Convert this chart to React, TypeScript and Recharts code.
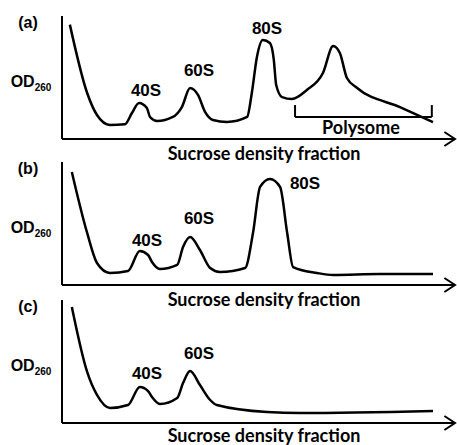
import { LineChart, Line, XAxis, YAxis, ReferenceLine } from "recharts";

// fraction position (0-100 along the gradient) vs OD260 (relative)
const curveA = [
  { f: 2.0, od: 0.93 }, { f: 6.4, od: 0.374 }, { f: 8.9, od: 0.195 }, { f: 12.2, od: 0.114 },
  { f: 16.0, od: 0.12 }, { f: 17.8, od: 0.211 }, { f: 19.6, od: 0.293 }, { f: 21.6, od: 0.252 },
  { f: 22.4, od: 0.179 }, { f: 24.2, od: 0.146 }, { f: 28.2, od: 0.179 }, { f: 30.5, od: 0.26 },
  { f: 32.6, od: 0.415 }, { f: 34.6, od: 0.358 }, { f: 36.4, od: 0.22 }, { f: 38.4, od: 0.154 },
  { f: 42.0, od: 0.138 }, { f: 47.1, od: 0.179 }, { f: 48.3, od: 0.374 }, { f: 49.6, od: 0.667 },
  { f: 51.1, od: 0.805 }, { f: 52.9, od: 0.78 }, { f: 53.9, od: 0.642 }, { f: 54.5, od: 0.439 },
  { f: 56.0, od: 0.341 }, { f: 58.5, od: 0.325 }, { f: 62.3, od: 0.398 }, { f: 66.4, od: 0.537 },
  { f: 69.0, od: 0.756 }, { f: 70.7, od: 0.699 }, { f: 72.5, od: 0.496 }, { f: 75.1, od: 0.415 },
  { f: 86.0, od: 0.26 }, { f: 94.4, od: 0.138 },
];

const curveB = [
  { f: 2.5, od: 0.919 }, { f: 6.4, od: 0.423 }, { f: 8.9, od: 0.179 }, { f: 12.2, od: 0.098 },
  { f: 16.8, od: 0.114 }, { f: 19.8, od: 0.276 }, { f: 21.9, od: 0.244 }, { f: 22.9, od: 0.187 },
  { f: 24.9, od: 0.13 }, { f: 29.3, od: 0.163 }, { f: 30.8, od: 0.309 }, { f: 32.6, od: 0.39 },
  { f: 35.1, od: 0.285 }, { f: 37.7, od: 0.138 }, { f: 40.2, od: 0.106 }, { f: 46.6, od: 0.138 },
  { f: 48.6, od: 0.423 }, { f: 50.4, od: 0.797 }, { f: 52.9, od: 0.862 }, { f: 55.5, od: 0.797 },
  { f: 57.3, od: 0.423 }, { f: 58.8, od: 0.146 }, { f: 64.9, od: 0.098 }, { f: 69.0, od: 0.081 },
  { f: 80.9, od: 0.089 }, { f: 94.4, od: 0.089 },
];

const curveC = [
  { f: 2.5, od: 0.943 }, { f: 6.4, od: 0.415 }, { f: 8.9, od: 0.228 }, { f: 12.2, od: 0.122 },
  { f: 16.8, od: 0.146 }, { f: 19.8, od: 0.293 }, { f: 21.9, od: 0.26 }, { f: 22.9, od: 0.211 },
  { f: 24.9, od: 0.154 }, { f: 29.3, od: 0.203 }, { f: 30.8, od: 0.325 }, { f: 32.6, od: 0.423 },
  { f: 35.1, od: 0.309 }, { f: 37.7, od: 0.187 }, { f: 39.4, od: 0.146 }, { f: 52.2, od: 0.089 },
  { f: 60.6, od: 0.081 }, { f: 94.4, od: 0.098 },
];

const arrowHead = [{ f: 97.3, od: 0.057 }, { f: 100, od: 0 }, { f: 97.3, od: -0.057 }];

const polysomeRange = [59.3, 94.1];
const polysomeLevels = [0.179, 0.276];

const panelTops = [11, 157, 295];
const panelNames = ["(a)", "(b)", "(c)"];

// peak labels: [text, x, y] in page pixels
const peakLabels = [
  ["40S", 146, 90], ["60S", 199, 70], ["80S", 267, 28],
  ["40S", 147, 240], ["60S", 199, 218], ["80S", 305, 183],
  ["40S", 147, 373], ["60S", 199, 353],
];

const W = 457;
const H = 140;
// plot: 123px per OD unit, domain runs from -0.06 to 1
const margin = { top: 5, right: 2, bottom: 4.62, left: 62 };
const arial = "'Liberation Sans', Arial, sans-serif";
const calibri = "Lato, 'Open Sans', sans-serif";

function Panel({ data, top, bracket }) {
  return (
    <div style={{ position: "absolute", left: 0, top }}>
      <LineChart width={W} height={H} margin={margin}>
        <XAxis dataKey="f" type="number" domain={[0, 100]} hide />
        <YAxis type="number" domain={[-0.06, 1]} hide />
        <ReferenceLine segment={[{ x: 0, y: 0 }, { x: 0, y: 1 }]} stroke="#000" strokeWidth={2} />
        <ReferenceLine y={0} stroke="#000" strokeWidth={2} />
        {bracket && (
          <>
            <ReferenceLine segment={[{ x: polysomeRange[0], y: polysomeLevels[0] }, { x: polysomeRange[1], y: polysomeLevels[0] }]}
              stroke="#000" strokeWidth={2} />
            <ReferenceLine segment={[{ x: polysomeRange[0], y: polysomeLevels[0] }, { x: polysomeRange[0], y: polysomeLevels[1] }]}
              stroke="#000" strokeWidth={2} />
            <ReferenceLine segment={[{ x: polysomeRange[1], y: polysomeLevels[0] }, { x: polysomeRange[1], y: polysomeLevels[1] }]}
              stroke="#000" strokeWidth={2} />
          </>
        )}
        <Line data={data} type="monotone" dataKey="od" stroke="#000" strokeWidth={2.5} dot={false} isAnimationActive={false} />
        <Line data={arrowHead} type="linear" dataKey="od" stroke="#000" strokeWidth={2} dot={false} isAnimationActive={false} />
      </LineChart>
    </div>
  );
}

const txt = (x, y, size, font) => ({
  position: "absolute" as const, left: x, top: y, transform: "translate(-50%,-50%)",
  fontFamily: font, fontWeight: 700, fontSize: size, whiteSpace: "nowrap" as const, color: "#000",
  lineHeight: 1,
});

export default function App() {
  const datas = [curveA, curveB, curveC];
  const axisYs = panelTops.map(t => t + margin.top + 123);
  return (
    <div style={{ position: "absolute", left: 0, top: 0, width: W, height: 445, background: "#fff" }}>
      {datas.map((d, i) => (
        <Panel key={i} data={d} top={panelTops[i]} bracket={i === 0} />
      ))}
      {panelNames.map((n, i) => (
        <div key={n} style={txt(28, panelTops[i] + 12, 16, arial)}>{n}</div>
      ))}
      {axisYs.map((y, i) => (
        <div key={"od" + i} style={{ ...txt(31, y - 57, 16, arial) }}>
          OD<span style={{ fontSize: 10, position: "relative", top: 4 }}>260</span>
        </div>
      ))}
      {axisYs.map((y, i) => (
        <div key={"xl" + i} style={txt(264, i === 2 ? y + 12 : y + 14, 18, calibri)}>Sucrose density fraction</div>
      ))}
      {peakLabels.map(([t, x, y], i) => (
        <div key={"p" + i} style={txt(x, y, 17, arial)}>{t}</div>
      ))}
      <div style={txt(361, 127, 18, calibri)}>Polysome</div>
    </div>
  );
}
